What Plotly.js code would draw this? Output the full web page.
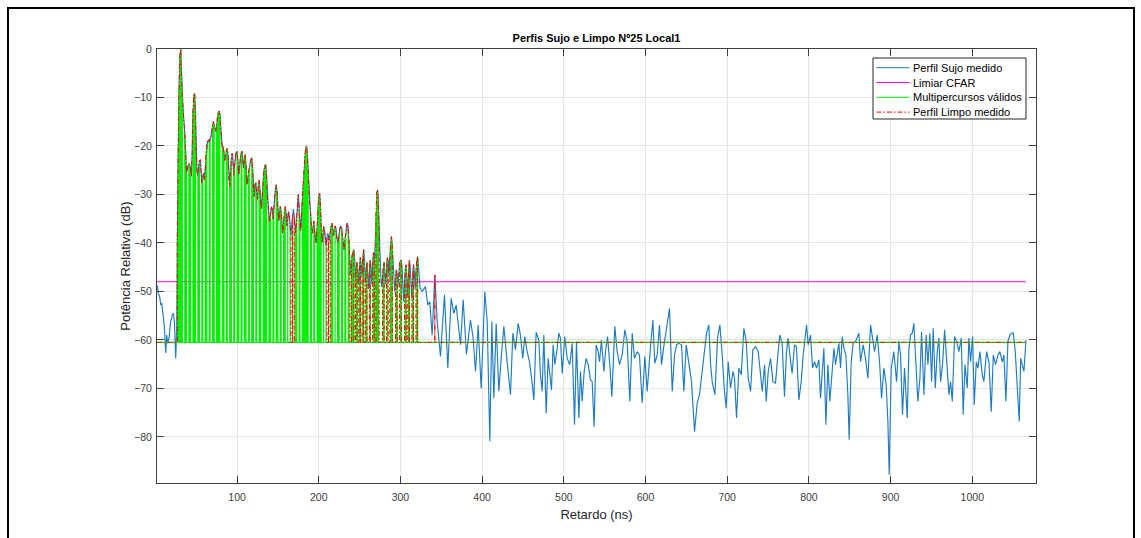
<!DOCTYPE html>
<html>
<head>
<meta charset="utf-8">
<script src="https://cdn.plot.ly/plotly-3.0.1.min.js"></script>
<style>
  html, body { margin: 0; padding: 0; background: #fff; }
  #wrap { position: relative; width: 1141px; height: 538px; overflow: hidden; }
  #chart { position: absolute; left: 0; top: 0; width: 1141px; height: 538px; }
  #frame { position: absolute; left: 7px; top: 7px; width: 1124px; height: 560px; border: 2px solid #000; pointer-events: none; }
</style>
</head>
<body>
<div id="wrap">
  <div id="chart"></div>
  <div id="frame"></div>
</div>
<script>
// ---------------- DATA ----------------
const chartTitle = 'Perfis Sujo e Limpo Nº25 Local1';
const xLabel = 'Retardo (ns)';
const yLabel = 'Potência Relativa (dB)';
const seriesNames = ['Perfil Sujo medido', 'Limiar CFAR', 'Multipercursos válidos', 'Perfil Limpo medido'];
const seriesColors = ['#1f7bc2', '#FF00FF', '#00F000', '#FF0000'];
const seriesDash = ['solid', 'solid', 'solid', '5px,2px,1.5px,2px'];

const xTickVals = [100, 200, 300, 400, 500, 600, 700, 800, 900, 1000];
const yTickVals = [-80, -70, -60, -50, -40, -30, -20, -10, 0];

const cfarLevel = -48;      // Limiar CFAR (dB)
const floorLevel = -60.5;   // level of invalid samples in the clean profile

// noise before the first path (ns / dB)
const earlyDelay = [2.1, 3.7, 5.3, 6.6, 7.8, 9.4, 11.0, 12.7, 13.9, 15.1, 16.8, 18.4, 19.6, 20.8, 22.1, 23.3, 24.9, 26.1];
const earlyPower = [-48.7, -50.4, -51.1, -52.8, -52.4, -55.5, -57.2, -62.7, -59.0, -60.7, -59.6, -56.6, -55.5, -54.8, -54.5, -56.2, -63.8, -57.6];

// multipath region, one sample per ns starting at denseStart
const denseStart = 27;
const densePower = [
  -38, -20, -8, -1.5, 0, -5, -10, -12.6, -15, -17.4,
  -21, -25.6, -25, -24, -23.6, -24, -24.3, -26.3, -22, -13,
  -9.5, -9.1, -13, -21.5, -25.6, -26, -24.5, -23, -22.9, -25.6,
  -27.7, -26.5, -25.6, -27, -25, -21.5, -19.5, -19, -18.8, -19.2,
  -18.5, -18.2, -17, -15.5, -15, -15.8, -16.7, -17, -16, -14,
  -13, -12.8, -13.5, -16, -19, -20.5, -20.1, -21.5, -23, -22,
  -20.7, -20.5, -22, -27, -28.4, -25, -22.5, -21.5, -23, -26,
  -24, -22, -21.3, -21.1, -23, -26, -24.5, -22.5, -21.5, -21.1,
  -23, -24.5, -22.5, -21.8, -24, -28, -27, -25.5, -24.5, -23.5,
  -22.8, -22.4, -24.5, -28.5, -30.4, -28, -27.5, -29.5, -31, -28.5,
  -27, -29, -32, -33, -30, -27, -25, -24, -23.9, -26,
  -30, -32.5, -34.6, -35.6, -33.5, -32.5, -33, -35, -33, -30.5,
  -29, -28, -29.5, -33, -35.5, -34, -32.5, -33.5, -36, -38,
  -36, -33.5, -32.5, -34, -36.5, -35, -33.5, -34.5, -37, -38.5,
  -36, -34, -33, -34.5, -37, -38, -35, -32, -30, -33,
  -36.5, -37.5, -34, -31, -28, -25, -22, -20.5, -20, -21.5,
  -25, -29, -32.5, -34, -36.5, -38, -37, -35.5, -37.5, -39.5,
  -40, -37, -33, -30.5, -29.7, -32, -37, -40, -38.5, -36.5,
  -37.5, -39, -40.5, -39, -38, -38.5, -39.5, -38, -36.5, -35.9,
  -37, -38.5, -37.5, -36.5, -37, -39, -40, -39.5, -38, -37,
  -36.5, -37, -38.5, -40, -41.5, -39.5, -38, -36.5, -35.9, -37,
  -39.4, -43.5, -46.5, -44, -42.5, -41.8, -41.4, -43.5, -47.5, -45,
  -44, -46, -48.5, -45, -43, -44.5, -47, -43, -41.4, -43.5,
  -48, -46, -44, -46.5, -49.5, -46, -43.5, -45, -48.5, -44.5,
  -42, -44, -40, -34, -29.5, -29, -32, -38, -43.5, -47,
  -49, -47, -45, -44, -46, -48.5, -45.5, -43, -44, -47,
  -43, -40, -38.7, -40.5, -44, -47.5, -50, -48, -45.5, -46.5,
  -49, -46, -44, -43.8, -43.5, -45, -49, -52, -48, -45,
  -44.5, -47.5, -51, -46, -43.5, -45, -49, -51.5, -47, -44.5,
  -46, -49.5, -46, -43.5, -42.8, -44.5, -48, -49.3
];

// noise after the last path (ns / dB)
const tailDelay = [
  326.6, 330.6, 333.5, 335.9, 338.8, 342.1, 345.0, 349.0, 353.9, 358.0,
  362.1, 365.3, 368.2, 373.5, 376.8, 380.8, 385.7, 389.0, 391.9, 395.1,
  398.8, 403.3, 406.2, 409.4, 411.9, 414.3, 417.2, 420.4, 423.3, 426.6,
  430.6, 434.7, 437.6, 440.8, 444.1, 446.9, 449.8, 452.2, 455.1, 458.0,
  461.2, 463.3, 466.1, 469.4, 471.4, 473.5, 475.5, 478.4, 480.8, 482.8,
  484.9, 486.9, 489.0, 491.4, 493.9, 495.9, 498.0, 501.2, 504.1, 507.3,
  510.2, 513.1, 515.5, 518.4, 520.4, 522.4, 524.9, 527.3, 529.8, 532.6,
  534.7, 537.1, 539.6, 542.0, 543.7, 546.1, 549.0, 551.0, 553.5, 556.3,
  558.8, 562.4, 565.3, 568.2, 571.4, 574.7, 577.5, 580.8, 583.7, 586.5,
  589.8, 592.6, 595.9, 599.2, 602.0, 605.3, 609.0, 611.4, 614.3, 617.1,
  619.6, 622.9, 626.5, 629.4, 632.7, 635.5, 638.0, 640.8, 644.1, 646.9,
  649.8, 653.1, 656.3, 660.0, 663.3, 666.1, 669.4, 672.2, 674.7, 677.5,
  679.6, 681.6, 684.9, 688.2, 691.0, 693.9, 696.3, 698.8, 701.2, 704.1,
  707.0, 709.0, 711.4, 714.3, 717.2, 720.4, 723.3, 725.7, 728.6, 731.4,
  734.7, 738.0, 740.8, 742.9, 745.7, 747.8, 750.2, 753.1, 755.9, 759.1,
  762.0, 764.4, 767.3, 770.1, 772.6, 774.6, 776.7, 779.5, 782.4, 784.8,
  787.7, 790.6, 793.0, 797.1, 799.1, 802.0, 804.4, 806.9, 809.3, 812.2,
  814.2, 817.1, 818.3, 820.8, 823.2, 825.7, 828.5, 830.6, 832.6, 834.6,
  836.7, 838.7, 840.8, 842.8, 845.3, 847.7, 849.3, 851.8, 854.2, 857.1,
  861.2, 863.2, 866.5, 869.3, 872.2, 875.5, 877.9, 880.4, 883.6, 886.5,
  888.9, 891.8, 894.6, 896.7, 898.3, 900.8, 904.0, 907.3, 910.2, 912.2,
  914.6, 917.1, 920.4, 922.4, 924.4, 926.5, 928.5, 931.0, 933.4, 935.9,
  937.9, 940.8, 943.6, 945.7, 948.1, 950.2, 952.2, 954.7, 957.1, 959.1,
  961.2, 963.6, 966.1, 968.5, 971.4, 973.4, 975.5, 978.3, 980.8, 983.6,
  986.5, 988.9, 991.0, 993.8, 995.9, 997.9, 1000.4, 1002.4, 1004.9, 1006.9,
  1009.4, 1012.2, 1014.2, 1017.5, 1020.4, 1023.2, 1025.7, 1028.5, 1031.4, 1033.8,
  1036.7, 1038.7, 1041.2, 1043.6, 1046.1, 1048.1, 1050.2, 1052.6, 1055.1, 1057.5,
  1059.2, 1061.2, 1063.2, 1065.7
];
const tailPower = [
  -50.0, -49.0, -52.8, -52.1, -59.0, -46.6, -56.2, -63.4, -50.7, -65.8,
  -51.4, -54.5, -52.8, -61.0, -51.7, -63.0, -55.9, -59.6, -66.5, -56.9,
  -70.0, -50.0, -56.2, -80.9, -56.2, -72.0, -56.6, -70.6, -63.8, -57.2,
  -64.5, -71.3, -58.6, -62.0, -56.6, -59.0, -63.8, -59.3, -62.4, -64.5,
  -68.9, -72.4, -58.4, -60.0, -67.2, -70.6, -59.0, -75.1, -63.8, -66.5,
  -70.3, -61.0, -65.1, -62.4, -58.6, -59.6, -66.9, -59.3, -63.8, -65.1,
  -60.7, -77.5, -60.3, -76.1, -66.5, -72.7, -66.5, -63.8, -65.1, -68.2,
  -68.6, -77.9, -61.0, -62.4, -64.5, -60.0, -66.5, -62.4, -59.3, -65.1,
  -71.7, -57.2, -62.4, -65.1, -63.1, -57.9, -60.3, -72.7, -58.6, -63.8,
  -62.4, -63.1, -73.0, -63.4, -70.6, -63.1, -55.9, -64.8, -63.1, -56.9,
  -65.1, -60.7, -57.2, -53.5, -70.6, -63.1, -61.0, -60.7, -61.0, -70.6,
  -61.0, -65.1, -68.6, -78.9, -73.0, -71.3, -66.5, -61.7, -58.6, -56.9,
  -64.8, -68.6, -71.3, -59.6, -56.9, -63.1, -69.9, -74.1, -64.5, -69.9,
  -66.5, -67.9, -76.1, -65.8, -67.2, -57.6, -60.3, -67.9, -70.6, -62.0,
  -61.4, -62.4, -67.2, -70.6, -65.1, -72.7, -66.5, -63.8, -68.6, -68.9,
  -63.1, -59.0, -60.7, -71.7, -62.4, -59.6, -63.1, -66.9, -61.0, -61.4,
  -72.4, -68.6, -63.1, -56.9, -61.0, -59.0, -65.8, -64.5, -65.8, -64.1,
  -72.0, -65.1, -61.7, -77.5, -65.1, -72.7, -65.8, -61.7, -65.1, -63.1,
  -60.7, -65.8, -59.3, -61.7, -63.1, -71.3, -80.6, -64.5, -60.7, -60.3,
  -58.6, -64.5, -61.0, -63.8, -67.9, -56.9, -59.6, -62.4, -59.0, -64.5,
  -72.0, -65.8, -69.3, -76.8, -87.8, -65.8, -62.4, -68.6, -60.3, -63.1,
  -75.4, -65.8, -76.1, -62.0, -59.0, -58.6, -56.6, -63.8, -72.7, -67.9,
  -58.3, -71.3, -59.0, -65.1, -58.6, -68.6, -57.6, -69.9, -62.4, -59.6,
  -68.6, -65.1, -57.9, -63.8, -71.3, -68.6, -72.7, -59.3, -60.3, -62.4,
  -59.6, -75.4, -65.1, -69.9, -59.6, -64.5, -59.3, -73.4, -64.5, -65.8,
  -62.4, -67.2, -68.6, -62.4, -64.5, -74.8, -63.1, -65.1, -63.1, -62.4,
  -64.5, -63.1, -72.7, -60.3, -59.0, -58.6, -58.6, -62.4, -69.9, -76.8,
  -63.8, -65.1, -66.5, -60.0
];

// samples (ns) of the multipath region where the green stems are absent
const greenGaps = [
  34, 35, 39, 40, 44, 45, 50, 51, 55, 56, 59, 60, 64, 65, 68, 69, 73, 74,
  80, 81, 85, 86, 89, 90, 94, 95, 98, 99, 103, 104, 107, 108, 112, 113,
  116, 117, 121, 122, 125, 126, 130, 131, 137, 138, 142, 143, 146, 147,
  151, 152, 155, 156, 160, 161, 163, 164, 166, 167, 168, 169, 170, 174, 175,
  178, 179, 188, 189, 192, 193, 196, 197, 204, 205, 207, 208, 210, 211, 212,
  213, 214, 218, 219, 221, 222, 226, 227, 230, 231, 234, 235, 238, 239,
  244, 245, 248, 249, 252, 253, 256, 257, 260, 261, 262, 264, 265, 266, 269,
  274, 275, 276, 277, 278, 281, 282, 283, 285, 286, 287, 291, 292, 293, 294,
  297, 298, 299, 302, 303, 304, 305, 308, 309, 312, 313, 314, 317, 318, 319,
  322, 323, 324
];
// samples (ns) of the multipath region where the clean profile drops to the floor
const redGaps = [
  167, 169, 211, 213, 239, 244, 248, 252, 256, 260, 261, 264, 265, 269,
  275, 276, 277, 281, 282, 286, 291, 292, 293, 297, 298, 302, 303, 304,
  308, 312, 313, 317, 318, 322, 323, 324
];
// isolated clean-profile path after the multipath region (ns)
const redSpikes = [342.1];

// ---------------- BUILD TRACES ----------------
const denseDelay = densePower.map((_, i) => denseStart + i);
const delay = earlyDelay.concat(denseDelay, tailDelay);
const power = earlyPower.concat(densePower, tailPower);
const denseSet = new Set(denseDelay);
const gGap = new Set(greenGaps), rGap = new Set(redGaps), rSpk = new Set(redSpikes);

const redValid = delay.map(t => denseSet.has(t) ? !rGap.has(t) : rSpk.has(t));
const greenValid = delay.map(t => denseSet.has(t) && !rGap.has(t) && !gGap.has(t));

const rx = [], ry = [];
delay.forEach((t, i) => {
  if (redValid[i]) {
    if (i > 0 && !redValid[i - 1]) { rx.push(t); ry.push(floorLevel); }
    rx.push(t); ry.push(power[i]);
    if (i < delay.length - 1 && !redValid[i + 1]) { rx.push(t); ry.push(floorLevel); }
  } else { rx.push(t); ry.push(floorLevel); }
});
const gx = [], gy = [];
delay.forEach((t, i) => {
  if (greenValid[i]) { gx.push(t, t, t); gy.push(floorLevel, power[i], floorLevel); }
  else { gx.push(t); gy.push(floorLevel); }
});

const font = 'Liberation Sans, Arial, Helvetica, sans-serif';
const traces = [
  { x: delay, y: power, name: seriesNames[0], type: 'scatter', mode: 'lines',
    line: { color: seriesColors[0], width: 1.15 } },
  { x: [delay[0], delay[delay.length - 1]], y: [cfarLevel, cfarLevel], name: seriesNames[1],
    type: 'scatter', mode: 'lines', line: { color: seriesColors[1], width: 1 } },
  { x: gx, y: gy, name: seriesNames[2], type: 'scatter', mode: 'lines',
    line: { color: seriesColors[2], width: 1.2, simplify: false } },
  { x: rx, y: ry, name: seriesNames[3], type: 'scatter', mode: 'lines',
    line: { color: seriesColors[3], width: 1, dash: seriesDash[3], simplify: false } }
];

// ---- legend box drawn in MATLAB style (compact rows) ----
const px2x = p => (p - 157) / 879;
const px2y = p => (483 - p) / 434;
const legBox = { left: 873, right: 1026, top: 58, bottom: 119 };
const legRow0 = 67.7, legRowStep = 14.8;
const shapes = [{
  type: 'rect', xref: 'paper', yref: 'paper', layer: 'above',
  x0: px2x(legBox.left), x1: px2x(legBox.right), y0: px2y(legBox.bottom), y1: px2y(legBox.top),
  line: { color: '#262626', width: 1 }, fillcolor: '#ffffff'
}];
const annotations = [];
seriesNames.forEach((name, i) => {
  const yy = px2y(legRow0 + i * legRowStep);
  shapes.push({ type: 'line', xref: 'paper', yref: 'paper', layer: 'above',
    x0: px2x(876.5), x1: px2x(909.5), y0: yy, y1: yy,
    line: { color: seriesColors[i], width: 1, dash: seriesDash[i] } });
  annotations.push({ xref: 'paper', yref: 'paper', x: px2x(912), y: yy, xanchor: 'left', yanchor: 'middle',
    text: name, showarrow: false, font: { family: font, size: 11, color: '#000' }, borderpad: 0 });
});

const axisCommon = {
  showline: true, linecolor: '#404040', linewidth: 1, mirror: 'ticks',
  ticks: 'inside', ticklen: 7, tickcolor: '#404040', tickwidth: 1,
  showgrid: true, gridcolor: '#e6e6e6', gridwidth: 1, zeroline: false,
  tickfont: { family: font, size: 10.5, color: '#404040' }, tickmode: 'array'
};

const layout = {
  width: 1141, height: 538,
  margin: { l: 157, r: 105, t: 49, b: 55 },
  paper_bgcolor: '#ffffff', plot_bgcolor: '#ffffff',
  title: { text: '<b>' + chartTitle + '</b>', font: { family: font, size: 11, color: '#000' },
           x: 0.5, xref: 'paper', xanchor: 'center', y: 1 - 38 / 538, yref: 'container', yanchor: 'middle' },
  xaxis: Object.assign({}, axisCommon, {
    range: [2, 1078], tickvals: xTickVals, ticklabelstandoff: 4,
    title: { text: xLabel, font: { family: font, size: 13, color: '#262626' }, standoff: 8 }
  }),
  yaxis: Object.assign({}, axisCommon, {
    range: [-89.5, 0], tickvals: yTickVals, ticklabelstandoff: 2,
    title: { text: yLabel, font: { family: font, size: 13, color: '#262626' }, standoff: 0 }
  }),
  showlegend: false,
  shapes: shapes,
  annotations: annotations
};

Plotly.newPlot('chart', traces, layout, { displayModeBar: false, staticPlot: true });
</script>
</body>
</html>
